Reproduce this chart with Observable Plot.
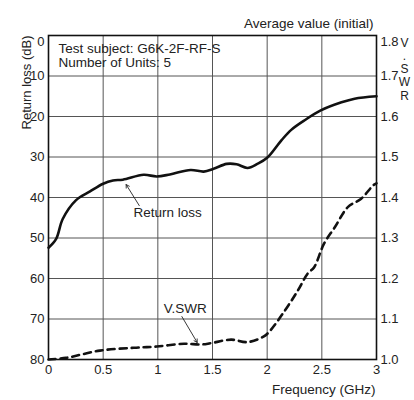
<!DOCTYPE html>
<html><head><meta charset="utf-8">
<script src="https://cdn.jsdelivr.net/npm/d3@7"></script>
<script src="https://cdn.jsdelivr.net/npm/@observablehq/plot@0.6"></script>
<style>body{margin:0;background:#fff;font-family:"Liberation Sans",Arial,sans-serif;}</style>
</head><body><div id="chart"></div>
<script>
// Return loss (dB) vs frequency (GHz)
const rlFreq = [0.0, 0.07, 0.13, 0.25, 0.38, 0.5, 0.59, 0.68, 0.87, 0.99, 1.11, 1.30, 1.42, 1.51, 1.63, 1.72, 1.82, 1.91, 2.0, 2.13, 2.22, 2.35, 2.49, 2.68, 2.8, 3.0];
const rlValues = [52.4, 50.2, 45.3, 40.7, 38.5, 36.6, 35.8, 35.6, 34.4, 34.8, 34.3, 33.2, 33.6, 32.9, 31.7, 31.8, 32.7, 31.7, 30.2, 25.9, 23.3, 20.8, 18.5, 16.5, 15.6, 15.0];
// V.SWR vs frequency (GHz)
const vsFreq = [0.0, 0.16, 0.47, 0.78, 0.99, 1.24, 1.39, 1.48, 1.67, 1.82, 1.97, 2.03, 2.16, 2.28, 2.37, 2.43, 2.52, 2.62, 2.74, 2.86, 2.97, 3.0];
const vsValues = [1.0, 1.004, 1.022, 1.029, 1.032, 1.039, 1.037, 1.04, 1.049, 1.043, 1.057, 1.072, 1.12, 1.17, 1.212, 1.228, 1.286, 1.327, 1.377, 1.397, 1.43, 1.435];
// axis ticks
const xTicks = [0, 0.5, 1, 1.5, 2, 2.5, 3];
const dbTicks = [0, 10, 20, 30, 40, 50, 60, 70, 80];
const vswrTicks = [1.0, 1.1, 1.2, 1.3, 1.4, 1.5, 1.6, 1.7, 1.8];
// annotations (data units)
const labelText = ["Return loss", "V.SWR"];
const labelFreq = [1.09, 1.25];
const labelDb = [43.7, 67.4];
const arrowFrom = [[0.83, 42.0], [1.22, 69.4]];
const arrowTo = [[0.71, 36.8], [1.36, 75.8]];

const vsToDb = v => (1.8 - v) * 100;
const rl = rlFreq.map((f, i) => ({f, v: rlValues[i]}));
const vs = vsFreq.map((f, i) => ({f, v: vsToDb(vsValues[i])}));
const labels = labelText.map((t, i) => ({t, f: labelFreq[i], v: labelDb[i]}));
const arrows = arrowFrom.map((a, i) => ({x1: a[0], y1: a[1], x2: arrowTo[i][0], y2: arrowTo[i][1]}));
const font = "Liberation Sans, Arial, sans-serif";
const vsFmt = d => (1.8 - d / 100).toFixed(1);
const fs = 13;
const fsText = 13.5;

const chart = Plot.plot({
  width: 414, height: 400,
  marginLeft: 48, marginRight: 38, marginTop: 35, marginBottom: 41,
  style: {fontFamily: font, fontSize: "13px", color: "#222", background: "#fff"},
  x: {domain: [0, 3]},
  y: {domain: [0, 80], reverse: true},
  marks: [
    Plot.gridX(xTicks, {stroke: "#555", strokeOpacity: 1, strokeWidth: 1}),
    Plot.gridY(dbTicks, {stroke: "#555", strokeOpacity: 1, strokeWidth: 1}),
    Plot.axisX(xTicks, {tickSize: 0, tickPadding: 5, label: null, fontSize: fs, tickFormat: d => String(d)}),
    Plot.axisY(dbTicks.slice(1), {anchor: "left", tickSize: 0, tickPadding: 4, label: null, fontSize: fs}),
    Plot.axisY([0], {anchor: "left", tickSize: 0, tickPadding: 4, label: null, fontSize: fs, dy: 6}),
    Plot.axisY(vswrTicks.slice(0, -1).map(vsToDb), {anchor: "right", tickSize: 0, tickPadding: 4, label: null, fontSize: fs, tickFormat: vsFmt}),
    Plot.axisY([vsToDb(1.8)], {anchor: "right", tickSize: 0, tickPadding: 4, label: null, fontSize: fs, dy: 6, tickFormat: vsFmt}),
    Plot.frame({stroke: "#111", strokeWidth: 1.6}),
    Plot.line(rl, {x: "f", y: "v", stroke: "#111", strokeWidth: 2.6, curve: "catmull-rom"}),
    Plot.line(vs, {x: "f", y: "v", stroke: "#111", strokeWidth: 2.6, strokeDasharray: "7,5", curve: "catmull-rom"}),
    Plot.arrow(arrows, {x1: "x1", y1: "y1", x2: "x2", y2: "y2", stroke: "#222", strokeWidth: 0.9, headLength: 6}),
    Plot.text(labels, {x: "f", y: "v", text: "t", fontSize: fsText, fill: "#222"}),
    Plot.text(["Test subject: G6K-2F-RF-S\nNumber of Units: 5"], {frameAnchor: "top-left", dx: 10, dy: 8, textAnchor: "start", lineAnchor: "top", fontSize: fsText, lineHeight: 1.0, fill: "#222"}),
    Plot.text(["Average value (initial)"], {frameAnchor: "top-right", dx: -3, dy: -17, textAnchor: "end", fontSize: fsText, fill: "#222"}),
    Plot.text(["Frequency (GHz)"], {frameAnchor: "bottom-right", dx: -1, dy: 34, textAnchor: "end", fontSize: fsText, fill: "#222"}),
    Plot.text(["Return loss (dB)"], {frameAnchor: "top-left", dx: -27, dy: 0, rotate: -90, textAnchor: "end", fontSize: fs, fill: "#222"}),
    Plot.text(["V\n.\nS\nW\nR"], {frameAnchor: "top-right", dx: 28, dy: 2, textAnchor: "middle", lineAnchor: "top", lineHeight: 1.1, fontSize: 12, fill: "#222"})
  ]
});
document.getElementById("chart").appendChild(chart);
</script></body></html>
